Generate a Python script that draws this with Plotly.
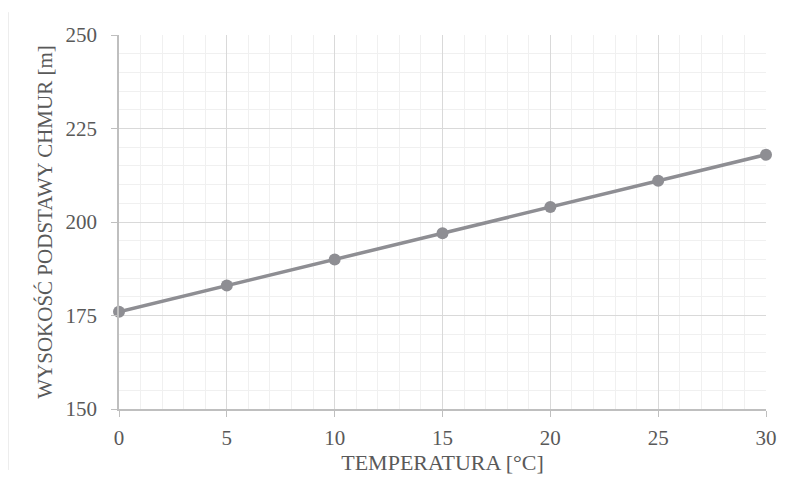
import plotly.graph_objects as go

temperatura = [0, 5, 10, 15, 20, 25, 30]
wysokosc = [176, 183, 190, 197, 204, 211, 218]
x_ticks = [0, 5, 10, 15, 20, 25, 30]
y_ticks = [150, 175, 200, 225, 250]

fig = go.Figure()
fig.add_trace(go.Scatter(
    x=temperatura, y=wysokosc, mode="lines+markers",
    line=dict(color="#8e8e93", width=3.5),
    marker=dict(color="#8e8e93", size=12),
    showlegend=False, cliponaxis=False,
))

tick_font = dict(family="Liberation Serif", size=21, color="#595959")
xtitle_font = dict(family="Liberation Serif", size=22, color="#595959")
ytitle_font = dict(family="Liberation Serif", size=21, color="#595959")

fig.update_layout(
    width=781, height=488,
    margin=dict(l=111, r=23, t=27, b=87),
    paper_bgcolor="white", plot_bgcolor="white",
    font=tick_font,
    xaxis=dict(
        range=[0, 30], tickvals=x_ticks, ticks="outside", ticklen=6, tickcolor="#bfbfbf",
        showline=True, linecolor="#bfbfbf", linewidth=1.5,
        showgrid=True, gridcolor="#d9d9d9", gridwidth=1,
        minor=dict(dtick=1, showgrid=True, gridcolor="#f0f0f0", gridwidth=1),
        zeroline=False, ticklabelstandoff=3,
        title=dict(text="TEMPERATURA [°C]", font=xtitle_font, standoff=4),
        tickfont=tick_font,
    ),
    yaxis=dict(
        range=[150, 250], tickvals=y_ticks, ticks="outside", ticklen=6, tickcolor="#bfbfbf",
        showline=True, linecolor="#bfbfbf", linewidth=1.5,
        showgrid=True, gridcolor="#d9d9d9", gridwidth=1,
        minor=dict(dtick=5, showgrid=True, gridcolor="#f0f0f0", gridwidth=1),
        zeroline=False, ticklabelstandoff=10,
        title=dict(text="WYSOKOŚĆ PODSTAWY CHMUR [m]", font=ytitle_font, standoff=7),
        tickfont=tick_font,
    ),
    shapes=[dict(type="line", xref="paper", yref="paper",
                 x0=-0.1716, x1=-0.1716, y0=-0.163, y1=1.061,
                 line=dict(color="#d9d9d9", width=1))],
)

fig.write_html("out.html")
